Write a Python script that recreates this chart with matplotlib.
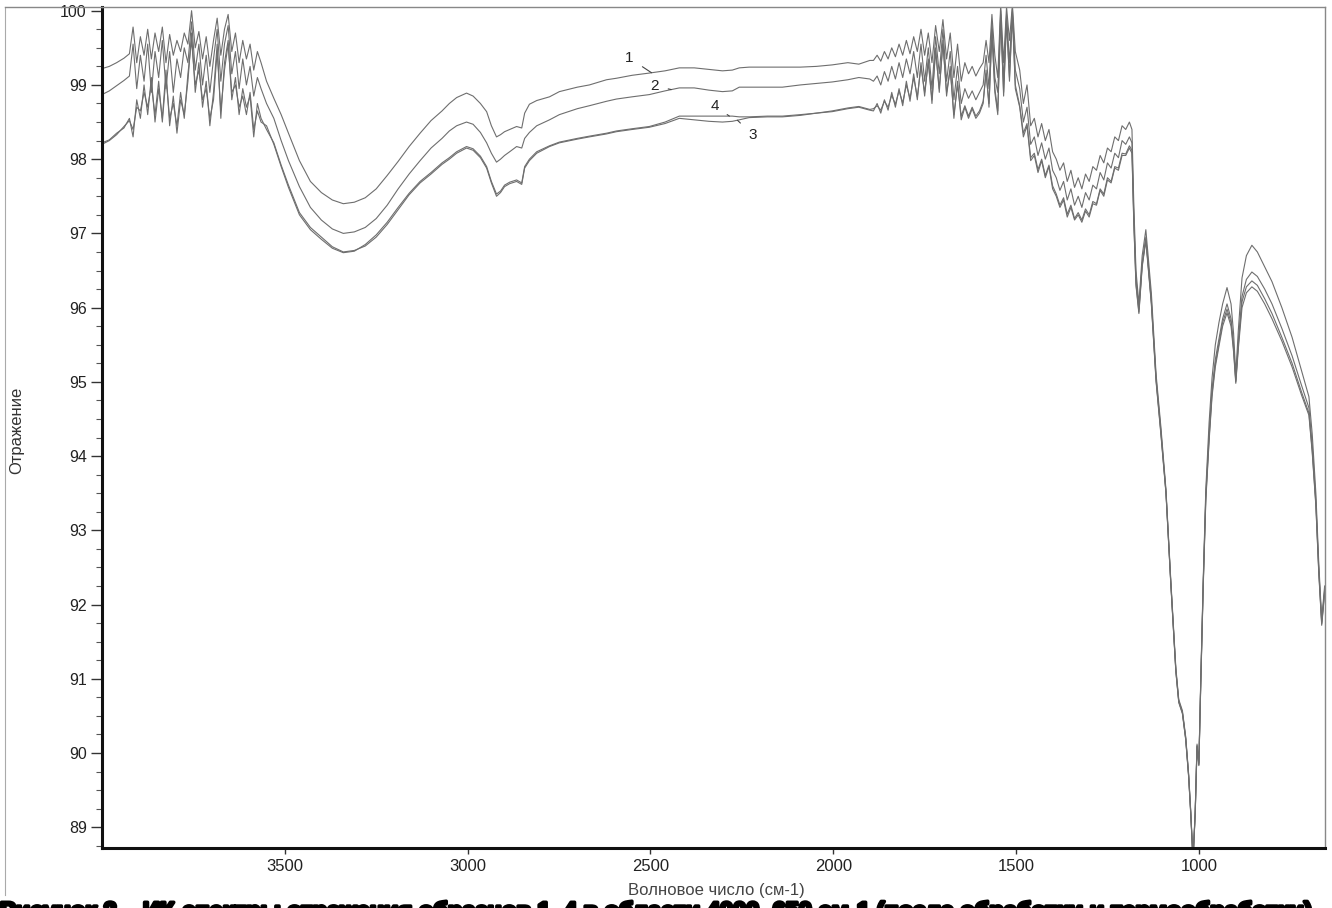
import matplotlib
matplotlib.use("Agg")
import numpy as np
import matplotlib.pyplot as plt
import matplotlib.patheffects as pe
from matplotlib.lines import Line2D
from matplotlib.ticker import MultipleLocator, FixedLocator

plt.rcParams['font.family'] = ['Liberation Sans', 'DejaVu Sans']

# ---------------- data (wavenumber, cm-1) ----------------
wn_a1 = [4000, 3980, 3960, 3940, 3925]
wn_a2 = list(range(3915, 3560, -10))
wn_b = [3550, 3530, 3510, 3490, 3460, 3430, 3400, 3370, 3340, 3310, 3280, 3250,
        3220, 3190, 3160, 3130, 3100, 3070, 3050, 3030, 3003, 2985, 2965, 2948,
        2935, 2921, 2910, 2899, 2885, 2866, 2852, 2844, 2831, 2811, 2776, 2749,
        2700, 2667, 2620, 2593, 2550, 2503, 2460, 2421, 2380, 2340, 2303, 2276,
        2257, 2230, 2180, 2139, 2090, 2046, 2003, 1960, 1930, 1900]
wn_c1 = list(range(1890, 1589, -10))
wn_c2 = list(range(1582, 1501, -8))
wn_c3 = list(range(1490, 1189, -10))
wn_e = [1183, 1178, 1172, 1164, 1155, 1145, 1130, 1117, 1104, 1090, 1077, 1063,
        1055, 1045, 1036, 1028, 1022, 1016, 1010, 1005, 1000, 995, 988, 981, 972,
        964, 955, 945, 935, 923, 912, 905, 899, 892, 882, 870, 855, 840, 820, 800,
        773, 745, 719, 699, 690, 680, 672, 664, 656]

# ---- spectrum 1 ----
r1_a1 = [99.22, 99.25, 99.30, 99.36, 99.42]
r1_a2 = [99.78, 99.30, 99.65, 99.40, 99.75, 99.35, 99.70, 99.45, 99.78, 99.30,
         99.68, 99.40, 99.60, 99.45, 99.70, 99.55, 100.00, 99.50, 99.72, 99.35,
         99.65, 99.25, 99.60, 99.90, 99.40, 99.75, 99.95, 99.45, 99.70, 99.30,
         99.60, 99.35, 99.55, 99.20, 99.45, 99.30]
r1_b = [99.05, 98.82, 98.60, 98.35, 97.98, 97.70, 97.55, 97.45, 97.40, 97.42, 97.48,
        97.60, 97.78, 97.97, 98.17, 98.35, 98.52, 98.65, 98.75, 98.83, 98.89, 98.85,
        98.75, 98.64, 98.45, 98.30, 98.33, 98.37, 98.40, 98.44, 98.42, 98.62, 98.74,
        98.79, 98.84, 98.91, 98.97, 99.00, 99.07, 99.09, 99.13, 99.16, 99.19, 99.23,
        99.23, 99.21, 99.19, 99.20, 99.23, 99.24, 99.24, 99.24, 99.24, 99.25, 99.27,
        99.30, 99.28, 99.33]
r1_c1 = [99.33, 99.40, 99.32, 99.45, 99.35, 99.50, 99.38, 99.55, 99.40, 99.60, 99.42,
         99.65, 99.45, 99.75, 99.40, 99.70, 99.30, 99.80, 99.45, 99.88, 99.35, 99.70,
         99.10, 99.55, 99.05, 99.30, 99.15, 99.25, 99.12, 99.22, 99.30]
r1_c2 = [99.60, 99.30, 99.95, 99.40, 99.10, 100.08, 99.30, 100.05, 99.60, 100.08, 99.45]
r1_c3 = [99.20, 98.75, 99.00, 98.45, 98.55, 98.30, 98.48, 98.25, 98.40, 98.10, 98.00,
         97.85, 97.95, 97.70, 97.85, 97.62, 97.75, 97.60, 97.80, 97.70, 97.90, 97.85,
         98.05, 97.95, 98.15, 98.10, 98.30, 98.25, 98.45, 98.40, 98.50]
r1_e = [98.40, 97.40, 96.50, 96.05, 96.70, 97.05, 96.20, 95.10, 94.40, 93.55, 92.35,
        91.15, 90.72, 90.57, 90.22, 89.72, 89.20, 88.55, 89.22, 90.12, 89.87, 90.95,
        92.35, 93.55, 94.45, 95.05, 95.50, 95.80, 96.05, 96.27, 96.05, 95.65, 95.10,
        95.70, 96.40, 96.70, 96.84, 96.75, 96.55, 96.35, 96.00, 95.60, 95.15, 94.80,
        94.30, 93.50, 92.55, 91.80, 92.25]

# ---- spectrum 2 ----
r2_a1 = [98.87, 98.92, 98.99, 99.06, 99.12]
r2_a2 = [99.55, 98.95, 99.40, 99.05, 99.55, 98.90, 99.45, 99.10, 99.60, 98.95,
         99.45, 98.90, 99.35, 99.10, 99.50, 99.30, 99.85, 99.20, 99.55, 99.00,
         99.40, 98.90, 99.35, 99.75, 99.05, 99.55, 99.80, 99.15, 99.45, 98.95,
         99.35, 99.00, 99.25, 98.85, 99.10, 98.95]
r2_b = [98.75, 98.55, 98.25, 97.98, 97.63, 97.35, 97.18, 97.06, 97.00, 97.02, 97.08,
        97.20, 97.38, 97.60, 97.80, 97.98, 98.15, 98.28, 98.38, 98.45, 98.50, 98.47,
        98.36, 98.22, 98.08, 97.96, 98.00, 98.05, 98.10, 98.17, 98.15, 98.28, 98.36,
        98.45, 98.53, 98.60, 98.68, 98.72, 98.78, 98.81, 98.84, 98.87, 98.92, 98.96,
        98.96, 98.93, 98.91, 98.92, 98.97, 98.97, 98.97, 98.97, 99.00, 99.02, 99.04,
        99.07, 99.10, 99.08]
r2_c1 = [99.05, 99.12, 99.00, 99.18, 99.05, 99.25, 99.08, 99.30, 99.10, 99.35, 99.15,
         99.45, 99.10, 99.55, 99.05, 99.50, 98.95, 99.65, 99.15, 99.75, 99.05, 99.45,
         98.80, 99.25, 98.75, 98.95, 98.82, 98.92, 98.80, 98.90, 99.00]
r2_c2 = [99.40, 98.95, 99.85, 99.10, 98.90, 100.00, 99.05, 99.95, 99.30, 100.02, 99.20]
r2_c3 = [98.95, 98.50, 98.70, 98.20, 98.30, 98.05, 98.22, 98.00, 98.15, 97.85, 97.75,
         97.58, 97.70, 97.45, 97.60, 97.38, 97.50, 97.35, 97.55, 97.45, 97.65, 97.60,
         97.82, 97.72, 97.95, 97.88, 98.08, 98.02, 98.25, 98.20, 98.30]
r2_e = [98.22, 97.25, 96.40, 95.98, 96.60, 96.95, 96.10, 95.05, 94.35, 93.52, 92.32,
        91.12, 90.70, 90.55, 90.20, 89.70, 89.18, 88.55, 89.20, 90.10, 89.85, 90.92,
        92.30, 93.48, 94.30, 94.90, 95.30, 95.58, 95.85, 96.05, 95.85, 95.50, 95.02,
        95.55, 96.15, 96.38, 96.48, 96.42, 96.25, 96.05, 95.72, 95.35, 94.95, 94.65,
        94.15, 93.40, 92.48, 91.76, 92.20]

# ---- spectrum 3 ----
r3_a1 = [98.22, 98.26, 98.35, 98.42, 98.55]
r3_a2 = [98.30, 98.80, 98.55, 99.00, 98.60, 99.10, 98.50, 98.95, 98.55, 99.20,
         98.45, 98.85, 98.35, 98.80, 98.60, 99.05, 99.70, 98.90, 99.30, 98.70,
         99.05, 98.45, 98.90, 99.55, 98.55, 99.30, 99.60, 98.80, 99.10, 98.60,
         98.95, 98.70, 98.85, 98.30, 98.75, 98.55]
r3_b = [98.40, 98.22, 97.92, 97.65, 97.28, 97.08, 96.95, 96.82, 96.75, 96.77, 96.83,
        96.95, 97.12, 97.32, 97.52, 97.68, 97.80, 97.93, 98.00, 98.08, 98.15, 98.12,
        98.02, 97.88, 97.68, 97.50, 97.55, 97.63, 97.67, 97.70, 97.66, 97.88, 97.98,
        98.08, 98.17, 98.22, 98.27, 98.30, 98.34, 98.37, 98.40, 98.43, 98.48, 98.55,
        98.53, 98.51, 98.50, 98.51, 98.53, 98.56, 98.57, 98.57, 98.59, 98.62, 98.64,
        98.68, 98.70, 98.66]
r3_c1 = [98.65, 98.75, 98.62, 98.80, 98.66, 98.90, 98.70, 98.95, 98.72, 99.05, 98.78,
         99.15, 98.80, 99.30, 98.85, 99.35, 98.75, 99.50, 98.90, 99.60, 98.85, 99.25,
         98.55, 99.05, 98.53, 98.70, 98.55, 98.68, 98.55, 98.62, 98.75]
r3_c2 = [99.20, 98.70, 99.75, 98.90, 98.60, 99.95, 98.85, 99.90, 99.05, 99.98, 98.95]
r3_c3 = [98.70, 98.30, 98.45, 97.98, 98.05, 97.82, 97.98, 97.75, 97.90, 97.60, 97.50,
         97.35, 97.45, 97.22, 97.35, 97.18, 97.25, 97.15, 97.30, 97.22, 97.40, 97.38,
         97.58, 97.50, 97.72, 97.68, 97.88, 97.85, 98.05, 98.05, 98.15]
r3_e = [98.08, 97.15, 96.30, 95.92, 96.55, 96.90, 96.05, 95.00, 94.30, 93.50, 92.30,
        91.10, 90.68, 90.53, 90.18, 89.68, 89.16, 88.55, 89.18, 90.08, 89.83, 90.88,
        92.25, 93.40, 94.20, 94.80, 95.20, 95.48, 95.75, 95.93, 95.75, 95.40, 94.98,
        95.45, 96.00, 96.20, 96.28, 96.22, 96.05, 95.85, 95.55, 95.20, 94.82, 94.55,
        94.05, 93.33, 92.42, 91.72, 92.15]

# ---- spectrum 4 ----
r4_a1 = [98.20, 98.25, 98.33, 98.44, 98.52]
r4_a2 = [98.40, 98.70, 98.65, 98.90, 98.70, 99.00, 98.60, 99.05, 98.50, 99.10,
         98.55, 98.75, 98.45, 98.90, 98.55, 99.15, 99.60, 99.00, 99.20, 98.80,
         98.95, 98.55, 98.80, 99.45, 98.65, 99.20, 99.55, 98.90, 99.00, 98.70,
         98.85, 98.60, 98.90, 98.40, 98.65, 98.50]
r4_b = [98.45, 98.20, 97.90, 97.62, 97.25, 97.05, 96.92, 96.80, 96.74, 96.76, 96.85,
        96.98, 97.15, 97.35, 97.54, 97.70, 97.82, 97.95, 98.02, 98.10, 98.17, 98.14,
        98.04, 97.90, 97.70, 97.53, 97.57, 97.65, 97.69, 97.72, 97.68, 97.90, 98.00,
        98.10, 98.18, 98.23, 98.28, 98.31, 98.35, 98.38, 98.41, 98.44, 98.50, 98.58,
        98.58, 98.58, 98.58, 98.58, 98.57, 98.57, 98.58, 98.58, 98.60, 98.62, 98.65,
        98.69, 98.71, 98.67]
r4_c1 = [98.68, 98.72, 98.66, 98.78, 98.70, 98.86, 98.74, 98.92, 98.76, 99.00, 98.82,
         99.10, 98.84, 99.25, 98.90, 99.30, 98.80, 99.45, 98.95, 99.55, 98.90, 99.20,
         98.60, 99.00, 98.58, 98.72, 98.58, 98.70, 98.58, 98.65, 98.78]
r4_c2 = [99.15, 98.75, 99.70, 98.95, 98.65, 99.90, 98.90, 99.85, 99.10, 99.95, 99.00]
r4_c3 = [98.72, 98.35, 98.48, 98.02, 98.08, 97.86, 98.00, 97.78, 97.92, 97.64, 97.53,
         97.38, 97.48, 97.26, 97.38, 97.20, 97.28, 97.18, 97.33, 97.25, 97.43, 97.40,
         97.60, 97.53, 97.75, 97.70, 97.90, 97.88, 98.08, 98.07, 98.18]
r4_e = [98.12, 97.18, 96.32, 95.94, 96.57, 96.92, 96.07, 95.02, 94.32, 93.51, 92.31,
        91.11, 90.69, 90.54, 90.19, 89.69, 89.17, 88.55, 89.19, 90.09, 89.84, 90.90,
        92.28, 93.43, 94.24, 94.84, 95.24, 95.52, 95.80, 95.98, 95.80, 95.44, 95.00,
        95.50, 96.08, 96.28, 96.36, 96.30, 96.12, 95.92, 95.60, 95.25, 94.86, 94.58,
        94.08, 93.35, 92.44, 91.74, 92.17]

wavenumber = wn_a1 + wn_a2 + wn_b + wn_c1 + wn_c2 + wn_c3 + wn_e
spectra = {
    "1": r1_a1 + r1_a2 + r1_b + r1_c1 + r1_c2 + r1_c3 + r1_e,
    "2": r2_a1 + r2_a2 + r2_b + r2_c1 + r2_c2 + r2_c3 + r2_e,
    "3": r3_a1 + r3_a2 + r3_b + r3_c1 + r3_c2 + r3_c3 + r3_e,
    "4": r4_a1 + r4_a2 + r4_b + r4_c1 + r4_c2 + r4_c3 + r4_e,
}
for k, v in spectra.items():
    assert len(v) == len(wavenumber), (k, len(v), len(wavenumber))

y_ticks = [89, 90, 91, 92, 93, 94, 95, 96, 97, 98, 99, 100]
x_ticks = [3500, 3000, 2500, 2000, 1500, 1000]
x_label = "Волновое число (см-1)"
y_label = "Отражение"

# label: (text wn, text y, curve point wn)
labels = {"1": (2557, 99.36, 2497), "2": (2489, 98.99, 2443),
          "4": (2325, 98.72, 2284), "3": (2221, 98.33, 2262)}

# ---------------- figure ----------------
W, H = 1332, 908
fig = plt.figure(figsize=(W / 100, H / 100), dpi=100)
ax = fig.add_axes([102 / W, 1 - 848 / H, (1325 - 102) / W, (848 - 7) / H])

for k in ["1", "2", "3", "4"]:
    ax.plot(wavenumber, spectra[k], color="#6e6e6e", lw=0.8)

ax.set_xlim(4000, 655)
ax.set_ylim(88.72, 100.05)

ax.yaxis.set_major_locator(FixedLocator(y_ticks))
ax.yaxis.set_minor_locator(MultipleLocator(0.25))
ax.xaxis.set_major_locator(FixedLocator(x_ticks))
ax.tick_params(axis="y", which="major", direction="out", length=8, width=1,
               color="#333333", labelsize=11.5, labelcolor="#222222", pad=3)
ax.tick_params(axis="y", which="minor", direction="out", length=4.5, width=0.8,
               color="#555555")
ax.tick_params(axis="x", which="major", direction="out", length=4, width=1,
               color="#333333", labelsize=12, labelcolor="#222222", pad=4)

for s in ["left", "bottom"]:
    ax.spines[s].set_linewidth(2.2)
    ax.spines[s].set_color("#111111")
for s in ["top", "right"]:
    ax.spines[s].set_linewidth(1.0)
    ax.spines[s].set_color("#888888")

# curve numbering
wn_arr = np.array(wavenumber[::-1])
for k, (tx, ty, px) in labels.items():
    val = np.interp(px, wn_arr, np.array(spectra[k][::-1]))
    ax.annotate(k, xy=(px, val), xytext=(tx, ty), fontsize=11, color="#222222",
                ha="center", va="center",
                arrowprops=dict(arrowstyle="-", color="#444444", lw=0.8,
                                shrinkA=5, shrinkB=0))

fig.text(716 / W, 1 - 890 / H, x_label, ha="center", va="center",
         fontsize=12, color="#444444")
fig.text(17 / W, 1 - 430 / H, y_label, ha="center", va="center",
         rotation=90, fontsize=12, color="#333333")

# outer frame of the scanned page
fig.add_artist(Line2D([5 / W, 5 / W], [1 - 7 / H, 1 - 895 / H],
                      transform=fig.transFigure, color="#aaaaaa", lw=0.8))
fig.add_artist(Line2D([5 / W, 102 / W], [1 - 7 / H, 1 - 7 / H],
                      transform=fig.transFigure, color="#888888", lw=1.0))

# caption of the scanned page (bold, cut by the lower edge)
caption = "Рисунок 2 – ИК-спектры отражения образцов 1–4 в области 4000–650 см-1 (после обработки и термообработки)"
fig.text(0.0, 1 - 912 / H, caption, ha="left", va="center",
         fontsize=17, fontweight="bold", color="black",
         path_effects=[pe.withStroke(linewidth=2.5, foreground="black")])

fig.savefig("out.png", dpi=100)
